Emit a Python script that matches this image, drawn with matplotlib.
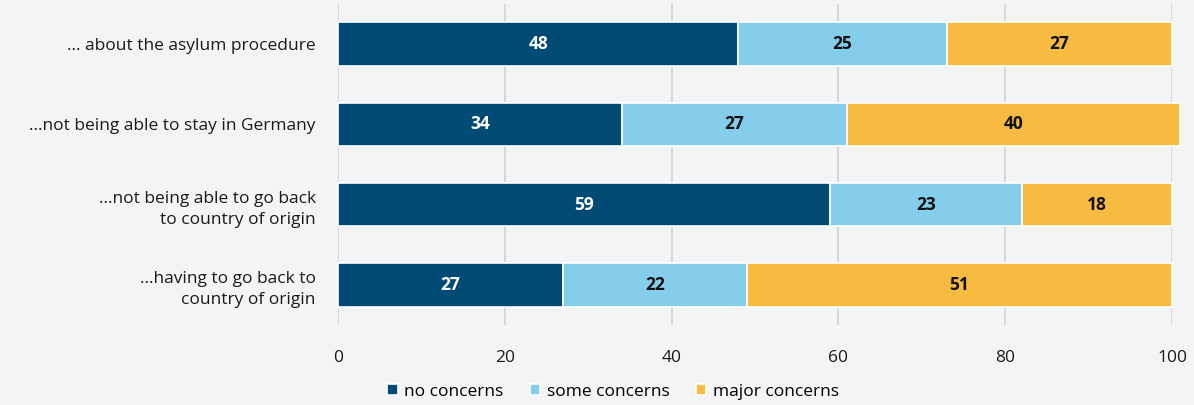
import numpy as np
import matplotlib.pyplot as plt

categories = ["... about the asylum procedure",
              "...not being able to stay in Germany",
              "...not being able to go back\nto country of origin",
              "...having to go back to\ncountry of origin"]
no_concerns = [48, 34, 59, 27]
some_concerns = [25, 27, 23, 22]
major_concerns = [27, 40, 18, 51]
series_names = ["no concerns", "some concerns", "major concerns"]
colors = ["#004b76", "#84ceec", "#f6bb40"]
bg = "#f3f4f6"

plt.rcParams['font.family'] = ['Open Sans', 'DejaVu Sans']

fig = plt.figure(figsize=(11.94, 4.05), dpi=100, facecolor=bg)
ax = fig.add_axes([338 / 1194, 1 - 325 / 405, (1172 - 338) / 1194, 321 / 405])
ax.set_facecolor(bg)

y = np.arange(len(categories))
left = np.zeros(len(categories))
for vals, name, col in zip([no_concerns, some_concerns, major_concerns], series_names, colors):
    rects = ax.barh(y, vals, height=0.54, left=left, color=col, edgecolor='white',
                    linewidth=1.2, label=name, zorder=3, clip_on=False)
    for r, v in zip(rects, vals):
        tc = 'white' if col == colors[0] else '#111111'
        ax.text(r.get_x() + r.get_width() / 2, r.get_y() + r.get_height() / 2, str(v),
                ha='center', va='center', color=tc, fontsize=12.5, fontweight='bold', zorder=4)
    left = left + np.array(vals)

ax.set_xlim(0, 100)
ax.set_ylim(3.5, -0.5)
ax.set_xticks(np.arange(0, 101, 20))
ax.xaxis.grid(True, color='#d0d0d0', linewidth=1.1, zorder=0)
ax.tick_params(axis='x', length=0, labelsize=12.5, pad=18, colors='#1a1a1a')
ax.tick_params(axis='y', length=0, labelsize=12.5, pad=16, colors='#1a1a1a')
ax.set_yticks(y)
ax.set_yticklabels(categories, ha='right', linespacing=1.45)
for s in ax.spines.values():
    s.set_visible(False)

ax.legend(loc='upper center', bbox_to_anchor=(0.33, -0.135), ncol=3, frameon=False,
          fontsize=12.5, handlelength=0.6, handleheight=0.6, handletextpad=0.4,
          columnspacing=1.5)

fig.savefig('out.png', dpi=100, facecolor=bg)
